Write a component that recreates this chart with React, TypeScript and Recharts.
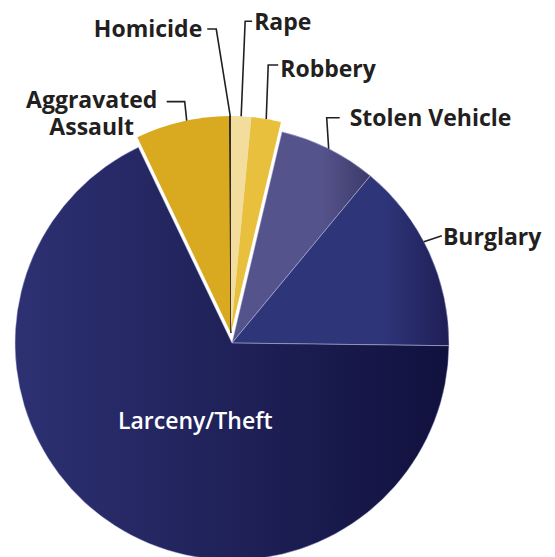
import { PieChart, Pie, Cell } from "recharts";

// share of reported offenses (%), violent crimes are pulled out of the pie
const violentNames = ["Aggravated Assault", "Homicide", "Rape", "Robbery"];
const violentValues = [7.0, 0.1, 1.5, 2.2];
const propertyNames = ["Stolen Vehicle", "Burglary", "Larceny/Theft"];
const propertyValues = [7.3, 14.2, 67.7];

const violentColors = ["#d9a91f", "#231f20", "#f2dd9c", "#e9c03e"];
// [left colour, right colour, where the darkening starts]
const propertyGradients: [string, string, number][] = [
  ["#55538b", "#3d3a6a", 0.65],
  ["#2e3579", "#1f1e56", 0.7],
  ["#2d3172", "#11113e", 0],
];

const violentData = violentNames.map((name, i) => ({ name, value: violentValues[i] }));
const propertyData = propertyNames.map((name, i) => ({ name, value: propertyValues[i] }));

const sum = (a: number[]) => a.reduce((s, v) => s + v, 0);
const total = sum(violentValues) + sum(propertyValues);
const deg = (v: number) => (v / total) * 360;

// clockwise from 12 o'clock: Rape, Robbery, property..., Assault, Homicide
const violentStart = 90 + deg(violentValues[0] + violentValues[1]);
const violentEnd = violentStart - deg(sum(violentValues));
const propertyStart = 90 - deg(violentValues[2] + violentValues[3]);
const propertyEnd = propertyStart - deg(sum(propertyValues));

const R = 217;
const CX = 232;
const CY = 343;
const EXPLODE = 10;
const RAD = Math.PI / 180;
const vMid = (violentStart + violentEnd) / 2;
const VCX = CX + EXPLODE * Math.cos(vMid * RAD);
const VCY = CY - EXPLODE * Math.sin(vMid * RAD);

const TEXT = "#231f20";
const FONT = "'Open Sans', sans-serif";

type LabelSpec = {
  r?: number;
  shift?: number;
  path: [number, number][];
  lines: string[];
  x: number;
  y: number;
  anchor: "start" | "middle" | "end";
  color?: string;
  weight?: number;
};

const labelLayout: Record<string, LabelSpec> = {
  Homicide: { path: [[-14, -87], [-23, -87]], lines: ["Homicide"], x: -28, y: -79, anchor: "end" },
  Rape: { path: [[4, -95], [11, -95]], lines: ["Rape"], x: 13, y: -86, anchor: "start" },
  Robbery: { path: [[2, -54], [12, -54]], lines: ["Robbery"], x: 14, y: -42, anchor: "start" },
  "Stolen Vehicle": { path: [[-2, -31], [11, -31]], lines: ["Stolen Vehicle"], x: 21, y: -23, anchor: "start" },
  Burglary: { shift: 3, path: [[18, -6]], lines: ["Burglary"], x: 19, y: 3, anchor: "start" },
  "Aggravated Assault": {
    shift: -1.2,
    path: [[-2, -19], [-20, -19]],
    lines: ["Aggravated", "Assault"],
    x: -95,
    y: -13,
    anchor: "middle",
  },
  "Larceny/Theft": { r: 0.4, path: [], lines: ["Larceny/Theft"], x: 10, y: 13, anchor: "middle", color: "#ffffff", weight: 600 },
};

const renderLabel = (props: any) => {
  const { cx, cy, midAngle, outerRadius, payload } = props;
  const spec = labelLayout[payload.name];
  if (!spec) return null;
  const a = (midAngle + (spec.shift ?? 0)) * RAD;
  const r = outerRadius * (spec.r ?? 1);
  const ax = cx + r * Math.cos(a);
  const ay = cy - r * Math.sin(a);
  const pts = [[0, 0], ...spec.path].map(([dx, dy]) => `${ax + dx},${ay + dy}`).join(" ");
  return (
    <g>
      {spec.path.length > 0 && (
        <polyline points={pts} fill="none" stroke={TEXT} strokeWidth={1.6} />
      )}
      <text
        x={ax + spec.x}
        y={ay + spec.y}
        textAnchor={spec.anchor}
        fill={spec.color ?? TEXT}
        fontFamily={FONT}
        fontWeight={spec.weight ?? 700}
        fontSize={23}
      >
        {spec.lines.map((l, i) => (
          <tspan key={l} x={ax + spec.x} dy={i === 0 ? 0 : 27}>
            {l}
          </tspan>
        ))}
      </text>
    </g>
  );
};

export default function App() {
  return (
    <div style={{ position: "absolute", left: 0, top: 0, background: "#fff" }}>
      <PieChart width={555} height={557} margin={{ top: 0, right: 0, bottom: 0, left: 0 }}>
        <defs>
          {propertyGradients.map(([from, to, hold], i) => (
            <linearGradient key={i} id={`prop${i}`} x1="0" y1="0" x2="1" y2="0">
              <stop offset="0%" stopColor={from} />
              <stop offset={`${hold * 100}%`} stopColor={from} />
              <stop offset="100%" stopColor={to} />
            </linearGradient>
          ))}
        </defs>
        <Pie
          data={propertyData}
          dataKey="value"
          nameKey="name"
          cx={CX}
          cy={CY}
          outerRadius={R}
          startAngle={propertyStart}
          endAngle={propertyEnd}
          label={renderLabel}
          labelLine={false}
          isAnimationActive={false}
        >
          {propertyData.map((d, i) => (
            <Cell key={d.name} fill={`url(#prop${i})`} stroke="rgba(200,200,240,0.45)" strokeWidth={1} />
          ))}
        </Pie>
        <Pie
          data={violentData}
          dataKey="value"
          nameKey="name"
          cx={VCX}
          cy={VCY}
          outerRadius={R}
          startAngle={violentStart}
          endAngle={violentEnd}
          label={renderLabel}
          labelLine={false}
          isAnimationActive={false}
        >
          {violentData.map((d, i) => (
            <Cell
              key={d.name}
              fill={violentColors[i]}
              stroke={d.name === "Homicide" ? TEXT : "none"}
              strokeWidth={d.name === "Homicide" ? 1 : 0}
            />
          ))}
        </Pie>
      </PieChart>
    </div>
  );
}
